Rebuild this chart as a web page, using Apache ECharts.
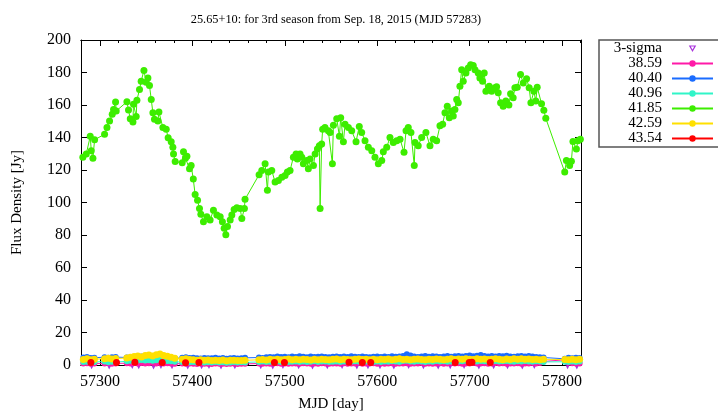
<!DOCTYPE html>
<html>
<head>
<meta charset="utf-8">
<script src="https://cdn.jsdelivr.net/npm/echarts@6/dist/echarts.min.js"></script>
<style>
  html, body { margin: 0; padding: 0; background: #fff; }
  #main { width: 718px; height: 417px; }
</style>
</head>
<body>
<div id="main"></div>
<script>
// tick positions on the MJD axis
var majorTicks = [57300, 57400, 57500, 57600, 57700, 57800];
var minorTicks = [57280, 57320, 57340, 57360, 57380, 57420, 57440, 57460, 57480, 57520, 57540, 57560, 57580,
  57620, 57640, 57660, 57680, 57720, 57740, 57760, 57780, 57820];

// 41.85 GHz (green)
var greenMjd = [
  57281.5,57285.2,57289.5,57290.6,57292.4,57294.2,57305.0,57307.6,57310.4,57313.3,
  57314.7,57316.9,57317.6,57329.2,57330.9,57332.8,57335.7,57336.3,57339.2,57340.0,
  57342.8,57344.6,57347.6,57350.0,57351.9,57353.6,57355.5,57357.3,57359.0,57362.7,
  57363.8,57368.1,57371.7,57373.8,57377.1,57378.9,57379.6,57381.4,57389.0,57390.4,
  57392.5,57394.1,57396.9,57398.7,57401.0,57403.0,57405.6,57407.7,57409.2,57412.0,
  57415.7,57419.2,57422.8,57426.5,57430.1,57432.5,57434.4,57436.2,57438.0,57440.9,
  57442.7,57445.2,57448.1,57451.7,57453.5,57456.3,57457.0,57472.2,57475.1,57478.7,
  57481.2,57482.3,57485.9,57489.5,57493.1,57496.8,57500.3,57502.8,57505.7,57509.3,
  57512.2,57513.6,57516.5,57518.4,57520.1,57523.8,57525.5,57527.4,57531.0,57532.8,
  57535.3,57537.4,57538.2,57539.9,57541.0,57543.5,57547.1,57549.0,57551.5,57552.6,
  57556.2,57559.1,57560.5,57563.4,57565.2,57568.8,57572.4,57577.1,57580.6,57583.2,
  57586.8,57590.4,57594.1,57597.6,57601.2,57604.9,57606.6,57610.3,57613.8,57617.4,
  57621.1,57624.7,57629.0,57631.2,57633.6,57636.5,57640.1,57640.9,57644.4,57648.1,
  57652.7,57657.1,57660.6,57664.3,57667.9,57670.8,57673.3,57675.8,57678.0,57680.5,
  57682.3,57684.1,57686.0,57687.7,57689.5,57691.4,57693.1,57696.0,57698.5,57701.1,
  57703.9,57705.8,57709.3,57711.1,57714.0,57715.8,57717.6,57721.2,57723.8,57727.4,
  57729.2,57730.9,57733.5,57736.3,57739.2,57742.5,57744.3,57747.1,57749.0,57751.5,
  57755.1,57758.0,57761.6,57764.4,57766.3,57769.5,57771.6,57773.1,57777.8,57780.3,
  57782.4,57802.9,57804.7,57808.2,57810.1,57811.8,57815.5,57817.2,57819.8
];
var greenFlux = [
  127.9,129.9,140.7,131.9,127.3,138.6,142.0,146.1,150.2,154.3,
  157.3,161.8,156.3,162.0,156.9,151.6,149.6,160.4,152.9,163.0,
  169.5,174.6,181.3,174.0,176.6,172.0,163.4,155.3,151.2,150.2,
  155.7,146.1,145.1,139.8,137.4,134.0,129.9,125.2,124.4,131.3,
  127.3,128.5,120.7,122.7,114.4,104.9,101.4,96.3,92.7,88.2,
  91.3,89.2,95.3,92.3,91.3,88.2,84.1,80.1,85.2,89.2,
  92.3,95.7,96.8,96.3,90.2,96.3,102.0,117.1,119.7,123.8,
  107.5,118.7,119.7,112.6,113.6,115.6,116.6,118.7,119.7,127.9,
  129.9,126.8,129.9,127.9,123.8,125.8,120.7,126.8,122.7,129.9,
  132.9,134.9,96.3,136.0,145.1,146.1,144.1,143.1,123.8,147.6,
  151.6,140.7,152.2,137.4,148.2,146.1,144.1,137.4,146.8,143.1,
  138.0,134.0,131.9,127.9,123.8,125.8,131.3,134.0,140.0,137.0,
  138.0,139.0,130.9,144.1,146.1,143.1,122.7,137.0,134.9,140.0,
  143.1,134.9,139.0,138.0,147.2,148.2,155.3,159.3,152.2,156.3,
  153.2,157.3,163.4,161.4,171.5,181.7,174.6,179.7,182.7,184.8,
  184.3,181.7,179.7,176.6,174.6,179.7,168.5,171.5,168.5,170.6,
  171.2,167.5,161.4,159.3,162.4,160.0,166.9,164.5,170.6,171.0,
  178.7,173.6,176.2,170.6,161.4,168.5,162.4,171.0,160.8,156.7,
  151.8,118.7,125.8,122.7,125.4,137.6,132.9,138.0,139.0
];

// epochs of the weak channels
var lowMjd = [
  57282,57286,57290,57294,57305,57309,57313,57317,57329,57333,
  57337,57341,57345,57349,57353,57357,57361,57365,57369,57373,
  57377,57381,57389,57393,57397,57401,57405,57409,57413,57417,
  57421,57425,57429,57433,57437,57441,57445,57449,57453,57457,
  57472,57476,57480,57484,57488,57492,57496,57500,57504,57508,
  57512,57516,57520,57524,57528,57532,57536,57540,57544,57548,
  57552,57556,57560,57564,57568,57572,57576,57580,57584,57588,
  57592,57596,57600,57604,57608,57612,57616,57620,57624,57628,
  57632,57636,57640,57644,57648,57652,57656,57660,57664,57668,
  57672,57676,57680,57684,57688,57692,57696,57700,57704,57708,
  57712,57716,57720,57724,57728,57732,57736,57740,57744,57748,
  57752,57756,57760,57764,57768,57772,57776,57780,57803,57807,
  57811,57815,57819
];
// 38.59
var pinkFlux = [
  0.9,1.1,0.8,1.0,0.9,1.2,0.8,1.0,1.1,0.9,
  1.3,1.0,1.2,0.9,1.1,1.4,1.0,1.2,0.9,1.1,
  1.0,0.8,0.9,0.7,1.0,0.8,0.6,0.9,0.7,0.8,
  0.6,0.9,0.7,0.8,0.6,0.7,0.9,0.6,0.8,0.7,
  0.9,0.8,1.0,0.7,0.9,1.1,0.8,1.0,0.7,0.9,
  1.0,0.8,1.1,0.9,0.7,1.0,0.8,1.1,0.9,0.8,
  1.0,0.9,0.7,1.1,0.8,1.0,0.9,1.2,0.8,1.0,
  0.9,1.1,0.8,1.0,0.7,0.9,1.1,0.8,1.0,0.9,
  1.1,0.8,1.0,0.9,1.2,0.8,1.0,0.7,0.9,1.1,
  0.8,1.0,1.2,0.9,1.1,0.8,1.0,0.9,1.2,1.0,
  0.9,1.1,0.8,1.0,1.2,0.9,1.1,0.8,1.0,0.9,
  1.1,0.8,1.0,0.9,1.2,1.0,1.3,2.2,3.2,1.4,
  1.1,0.9,1.0
];
// 40.40
var blueFlux = [
  4.6,4.9,4.3,4.5,4.8,4.4,4.7,4.9,4.6,4.8,
  5.0,4.7,5.2,4.9,5.1,4.6,4.8,5.0,4.7,4.5,
  4.6,4.2,4.4,4.7,4.3,4.5,4.2,4.0,4.3,4.1,
  4.2,4.4,4.0,4.3,3.9,4.1,4.3,4.0,4.2,4.4,
  4.6,4.3,4.7,5.0,4.8,5.2,4.9,5.1,4.8,5.3,
  5.0,5.4,5.1,4.8,5.2,4.9,5.1,5.3,5.0,4.8,
  5.1,5.3,4.9,5.2,5.0,5.4,5.1,4.9,5.2,5.0,
  4.8,5.1,5.3,4.9,5.2,5.0,5.4,5.1,5.3,5.6,
  6.6,5.8,5.2,5.0,5.3,5.5,5.1,5.4,5.2,5.0,
  5.3,5.5,5.1,5.4,5.6,5.2,5.5,5.8,5.4,5.7,
  6.2,5.6,5.3,5.5,5.2,5.6,5.4,5.7,5.3,5.1,
  5.4,5.6,5.2,5.5,5.3,5.0,4.8,4.6,3.8,4.4,
  4.2,4.5,4.3
];
// 40.96
var cyanFlux = [
  1.8,2.0,1.6,1.9,2.1,1.7,2.0,1.8,2.3,2.6,
  2.9,2.7,3.1,2.8,3.0,2.6,2.9,3.2,2.7,2.5,
  2.3,2.0,1.8,2.1,1.7,1.9,1.6,1.8,1.5,1.7,
  1.6,1.8,1.5,1.7,1.4,1.6,1.8,1.5,1.7,1.6,
  1.9,2.1,1.8,2.0,1.7,2.2,1.9,2.1,1.8,2.0,
  2.2,1.9,2.1,1.8,2.0,2.3,1.9,2.1,2.2,1.8,
  2.0,2.2,1.9,2.1,1.8,2.0,2.3,2.1,1.9,2.2,
  2.0,1.8,2.1,1.9,2.2,2.0,2.3,2.1,1.9,2.4,
  2.6,2.2,2.0,2.3,2.1,1.9,2.2,2.0,2.4,2.1,
  2.3,2.0,2.2,2.5,2.1,2.3,2.6,2.2,2.4,2.1,
  2.5,2.3,2.0,2.2,2.4,2.1,2.3,2.5,2.2,2.0,
  2.3,2.1,2.4,2.2,2.0,2.3,2.1,1.9,2.0,1.8,
  2.1,1.9,2.2
];
// 42.59
var yellowFlux = [
  3.4,3.9,3.2,3.6,3.8,4.1,3.7,4.0,4.3,4.8,
  5.2,5.6,4.9,5.8,6.1,5.5,6.3,6.8,5.9,5.4,
  4.8,4.2,3.6,3.9,3.4,3.2,3.0,3.3,2.9,3.1,
  2.8,3.0,2.7,3.1,2.6,2.9,3.0,2.8,2.7,2.9,
  3.2,3.4,3.1,3.5,3.3,3.6,3.2,3.4,3.7,3.3,
  3.5,3.2,3.6,3.4,3.1,3.5,3.3,3.6,3.4,3.2,
  3.5,3.7,3.3,3.6,3.4,3.2,3.5,3.7,3.4,3.6,
  3.3,3.5,3.2,3.6,3.4,3.7,3.3,3.5,3.8,3.4,
  3.6,3.3,3.5,3.7,3.4,3.2,3.6,3.4,3.7,3.5,
  3.3,3.6,3.8,3.4,3.7,3.5,3.9,3.6,3.4,3.8,
  3.5,3.7,3.4,3.6,3.9,3.5,3.3,3.7,3.4,3.8,
  3.6,3.9,3.5,3.7,3.4,3.6,3.3,3.5,3.4,3.2,
  3.6,3.3,3.5
];
// 43.54
var redMjd = [57290.2,57317.9,57337.8,57367.4,57392.6,57407.1,57488.8,57499.6,57569.5,57583.9,57593.0,57684.4,57699.6,57702.5,57722.3];
var redFlux = [1.5,1.6,1.7,1.5,1.4,1.5,1.6,1.5,1.7,1.5,1.6,1.5,1.6,1.7,1.5];
// 3-sigma upper limits
var sigmaMjd = [57291,57310,57335,57342,57358,57366,57378,57395,57410,57418,57431,57446,57474,57487,57498,57515,57530,57546,
  57562,57578,57590,57603,57618,57634,57650,57666,57679,57694,57710,57726,57741,57757,57770,57806,57816];
var sigmaFlux = [0.6,0.5,0.7,0.6,0.5,0.8,0.6,0.5,0.6,0.7,0.5,0.6,0.6,0.5,0.7,0.6,0.5,0.6,
  0.7,0.5,0.6,0.6,0.5,0.7,0.6,0.5,0.6,0.7,0.5,0.6,0.6,0.5,0.7,0.6,0.5];

function pairs(xs, ys) {
  return xs.map(function (x, i) { return [x, ys[i]]; });
}

var FONT = "'Liberation Serif', 'DejaVu Serif', serif";
var xMin = 57279.5, xMax = 57820.5;
// small open down-triangle for the 3-sigma legend entry (41x8 icon box)
var sigmaIcon = 'image://data:image/svg+xml;utf8,' + encodeURIComponent(
  '<svg xmlns="http://www.w3.org/2000/svg" width="41" height="8" viewBox="0 0 41 8">' +
  '<polygon points="17.8,1.5 23.2,1.5 20.5,6.3" fill="none" stroke="#9400d3" stroke-width="1.2"/></svg>');

var chart = echarts.init(document.getElementById('main'), null, { renderer: 'canvas' });

function xAx(pos, ticks, len, labels) {
  return {
    type: 'value', position: pos, min: xMin, max: xMax,
    axisLine: { show: true, onZero: false, lineStyle: { color: '#000', width: 1 } },
    axisTick: { show: true, inside: true, length: len, customValues: ticks, lineStyle: { color: '#000' } },
    axisLabel: labels ? {
      show: true, customValues: ticks, color: '#000', fontFamily: FONT, fontSize: 16, margin: 9,
      formatter: function (v) { return String(v); }
    } : { show: false },
    splitLine: { show: false }
  };
}

function line(name, data, color, size) {
  return {
    name: name, type: 'line', data: data, symbol: 'circle', symbolSize: size,
    lineStyle: { width: 1, color: color }, itemStyle: { color: color },
    xAxisIndex: 0, yAxisIndex: 0, animation: false
  };
}

var bottomX = xAx('bottom', majorTicks, 6, true);
bottomX.name = 'MJD [day]';
bottomX.nameLocation = 'middle';
bottomX.nameGap = 32;
bottomX.nameTextStyle = { color: '#000', fontFamily: FONT, fontSize: 15 };

var option = {
  backgroundColor: '#fff',
  animation: false,
  title: {
    text: '25.65+10: for 3rd season from Sep. 18, 2015 (MJD 57283)',
    left: 331, top: 9, textAlign: 'center',
    textStyle: { color: '#000', fontFamily: FONT, fontSize: 12.3, fontWeight: 'normal' }
  },
  grid: { left: 81, right: 137, top: 40, bottom: 49, containLabel: false },
  legend: {
    orient: 'vertical', left: 599, top: 40, align: 'right',
    itemWidth: 41, itemHeight: 8, itemGap: 0,
    padding: [1, 5, 1, 11],
    borderColor: '#555', borderWidth: 1.5,
    textStyle: { color: '#000', fontFamily: FONT, fontSize: 15, lineHeight: 15, width: 52, align: 'right', padding: [0, 5, 0, 0] },
    data: [{ name: '3-sigma', icon: sigmaIcon }, '38.59', '40.40', '40.96', '41.85', '42.59', { name: '43.54', lineStyle: { opacity: 1 } }]
  },
  xAxis: [
    bottomX,
    xAx('bottom', minorTicks, 3, false),
    xAx('top', majorTicks, 6, false),
    xAx('top', minorTicks, 3, false)
  ],
  yAxis: [
    {
      type: 'value', position: 'left', min: 0, max: 200, interval: 20,
      name: 'Flux Density [Jy]', nameLocation: 'middle', nameGap: 56,
      nameTextStyle: { color: '#000', fontFamily: FONT, fontSize: 15 },
      axisLine: { show: true, onZero: false, lineStyle: { color: '#000', width: 1 } },
      axisTick: { show: true, inside: true, length: 6, lineStyle: { color: '#000' } },
      axisLabel: { color: '#000', fontFamily: FONT, fontSize: 16, margin: 10 },
      splitLine: { show: false }
    },
    {
      type: 'value', position: 'right', min: 0, max: 200, interval: 20,
      axisLine: { show: true, onZero: false, lineStyle: { color: '#000', width: 1 } },
      axisTick: { show: true, inside: true, length: 6, lineStyle: { color: '#000' } },
      axisLabel: { show: false },
      splitLine: { show: false }
    }
  ],
  series: [
    {
      name: '3-sigma', type: 'scatter', data: pairs(sigmaMjd, sigmaFlux),
      symbol: 'emptyTriangle', symbolRotate: 180, symbolSize: 6,
      itemStyle: { color: '#9400d3', borderWidth: 1 }, animation: false
    },
    line('38.59', pairs(lowMjd, pinkFlux), '#ff1aa8', 6),
    line('40.40', pairs(lowMjd, blueFlux), '#1a6cff', 6),
    line('40.96', pairs(lowMjd, cyanFlux), '#30f5c8', 6),
    line('41.85', pairs(greenMjd, greenFlux), '#3ded00', 7),
    line('42.59', pairs(lowMjd, yellowFlux), '#ffe000', 7),
    (function () {
      var s = line('43.54', pairs(redMjd, redFlux), '#ff0000', 7);
      s.lineStyle.opacity = 0;
      return s;
    })()
  ]
};

chart.setOption(option);
</script>
</body>
</html>
